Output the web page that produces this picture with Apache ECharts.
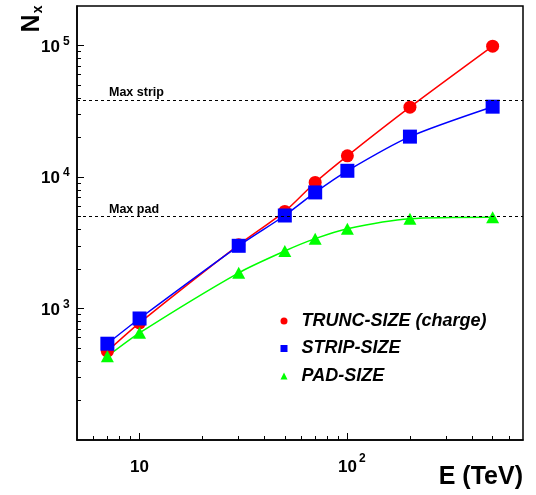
<!DOCTYPE html>
<html>
<head>
<meta charset="utf-8">
<script src="https://cdn.jsdelivr.net/npm/echarts@6/dist/echarts.min.js"></script>
<style>
html,body{margin:0;padding:0;background:#fff;}
#chart{width:536px;height:495px;}
</style>
</head>
<body>
<div id="chart"></div>
<script>
// ---- data ----
const energy = [7, 10, 30, 50, 70, 100, 200, 500];            // E (TeV)
const truncSize = [474, 778, 3050, 5480, 9100, 14500, 34000, 99000];
const stripSize = [540, 840, 3000, 5100, 7640, 11160, 20300, 34300];
const padSize = [433, 653, 1870, 2740, 3400, 4050, 4820, 4950];
const seriesNames = ['TRUNC-SIZE (charge)', 'STRIP-SIZE', 'PAD-SIZE'];
const limitValues = [38400, 5000];
const limitLabels = ['Max strip', 'Max pad'];
const xLabelValues = [10, 100];
const yLabelValues = [1000, 10000, 100000];
const xRange = [5, 700];
const yRange = [100, 200000];

// minor tick positions (2..9 x decade) inside the ranges
function minorTicks(range) {
  const out = [];
  for (let e = -1; e <= 6; e++) {
    for (let m = 2; m <= 9; m++) {
      const v = m * Math.pow(10, e);
      if (v > range[0] && v < range[1]) out.push(v);
    }
  }
  return out;
}
const xMinor = minorTicks(xRange);
const yMinor = minorTicks(yRange);

const FONT = 'Liberation Sans';
const pts = (ys) => energy.map((x, i) => [x, ys[i]]);

function powLabel(v, isX) {
  const e = Math.round(Math.log10(v));
  if (isX && e === 1) return '{b|10}';
  return (isX ? '{sp|}' : '') + '{b|10}{sup|' + e + '}';
}

const chart = echarts.init(document.getElementById('chart'), null, {renderer: 'canvas'});
const gridW = 536 - 77 - 13;
const gridH = 495 - 6 - 55;

const option = {
  backgroundColor: '#ffffff',
  animation: false,
  grid: {left: 77, right: 13, top: 6, bottom: 55, show: true, borderColor: '#000', borderWidth: 1.5, backgroundColor: 'transparent'},
  legend: {
    orient: 'vertical', left: 280.5, top: 311, padding: 0,
    itemWidth: 7, itemHeight: 7, itemGap: 7.5,
    textStyle: {fontFamily: FONT, fontSize: 18, fontWeight: 'bold', fontStyle: 'italic', color: '#000', lineHeight: 20, padding: [0, 0, 0, 9]},
    data: [
      {name: seriesNames[0], icon: 'circle'},
      {name: seriesNames[1], icon: 'rect'},
      {name: seriesNames[2], icon: 'triangle'}
    ]
  },
  xAxis: [
    {
      type: 'log', logBase: 10, min: xRange[0], max: xRange[1], position: 'bottom',
      axisLine: {show: true, onZero: false, lineStyle: {color: '#000', width: 1.5}},
      axisTick: {show: true, inside: true, length: 7, customValues: xLabelValues, lineStyle: {color: '#000', width: 1}},
      axisLabel: {
        show: true, customValues: xLabelValues, margin: 13,
        formatter: (v) => powLabel(v, true),
        rich: {
          b: {fontFamily: FONT, fontSize: 17, fontWeight: 'bold', color: '#000', padding: [6, 0, 0, 0], verticalAlign: 'bottom'},
          sup: {fontFamily: FONT, fontSize: 12, fontWeight: 'bold', color: '#000', padding: [0, 0, 0, 2], verticalAlign: 'top'},
          sp: {width: 9}
        }
      },
      splitLine: {show: false},
      name: 'E (TeV)', nameLocation: 'end', nameGap: 0,
      nameTextStyle: {fontFamily: FONT, fontSize: 25, fontWeight: 'bold', color: '#000', align: 'right', verticalAlign: 'top', padding: [25, 0, 0, 0]}
    },
    {
      type: 'log', logBase: 10, min: xRange[0], max: xRange[1], position: 'top', offset: -gridH,
      axisLine: {show: false},
      axisTick: {show: true, inside: false, length: 4, customValues: xMinor, lineStyle: {color: '#000', width: 1}},
      axisLabel: {show: false},
      splitLine: {show: false}
    }
  ],
  yAxis: [
    {
      type: 'log', logBase: 10, min: yRange[0], max: yRange[1], position: 'left',
      axisLine: {show: true, onZero: false, lineStyle: {color: '#000', width: 1.5}},
      axisTick: {show: true, inside: true, length: 7, customValues: yLabelValues, lineStyle: {color: '#000', width: 1}},
      axisLabel: {
        show: true, customValues: yLabelValues, margin: 36, align: 'left',
        formatter: (v) => powLabel(v, false),
        rich: {
          b: {fontFamily: FONT, fontSize: 17, fontWeight: 'bold', color: '#000', padding: [3.5, 0, 0, 0], verticalAlign: 'bottom'},
          sup: {fontFamily: FONT, fontSize: 12, fontWeight: 'bold', color: '#000', padding: [0, 0, 0, 3], verticalAlign: 'top'}
        }
      },
      splitLine: {show: false},
      name: '{n|N}{s|x}', nameLocation: 'end', nameGap: -3, nameRotate: 90,
      nameTextStyle: {
        align: 'right', verticalAlign: 'bottom', padding: [0, 0, 32, 0],
        rich: {
          n: {fontFamily: FONT, fontSize: 25, fontWeight: 'bold', color: '#000', verticalAlign: 'top'},
          s: {fontFamily: FONT, fontSize: 14, fontWeight: 'bold', color: '#000', lineHeight: 14, padding: [18, 0, 0, 1], verticalAlign: 'bottom'}
        }
      }
    },
    {
      type: 'log', logBase: 10, min: yRange[0], max: yRange[1], position: 'right', offset: -gridW,
      axisLine: {show: false},
      axisTick: {show: true, inside: false, length: 4, customValues: yMinor, lineStyle: {color: '#000', width: 1}},
      axisLabel: {show: false},
      splitLine: {show: false}
    }
  ],
  series: [
    {
      type: 'line', name: seriesNames[0], xAxisIndex: 0, yAxisIndex: 0,
      data: pts(truncSize), smooth: 0.25,
      symbol: 'circle', symbolSize: 13,
      itemStyle: {color: '#ff0000'}, lineStyle: {color: '#ff0000', width: 1.5},
      markLine: {
        silent: true, symbol: ['none', 'none'],
        lineStyle: {color: '#000', width: 1, type: [3, 3]},
        label: {
          show: true, position: 'insideStartTop', distance: 1, padding: [0, 0, 0, 31],
          formatter: (p) => p.name,
          fontFamily: FONT, fontSize: 12.5, fontWeight: 'bold', color: '#000'
        },
        data: limitValues.map((v, i) => ({yAxis: v, name: limitLabels[i]}))
      }
    },
    {
      type: 'line', name: seriesNames[1], xAxisIndex: 0, yAxisIndex: 0,
      data: pts(stripSize), smooth: 0.25,
      symbol: 'rect', symbolSize: 14,
      itemStyle: {color: '#0000ff'}, lineStyle: {color: '#0000ff', width: 1.5}
    },
    {
      type: 'line', name: seriesNames[2], xAxisIndex: 0, yAxisIndex: 0,
      data: pts(padSize), smooth: 0.25,
      symbol: 'triangle', symbolSize: [13, 12],
      itemStyle: {color: '#00ff00'}, lineStyle: {color: '#00ff00', width: 1.5}
    }
  ]
};
chart.setOption(option);
</script>
</body>
</html>
